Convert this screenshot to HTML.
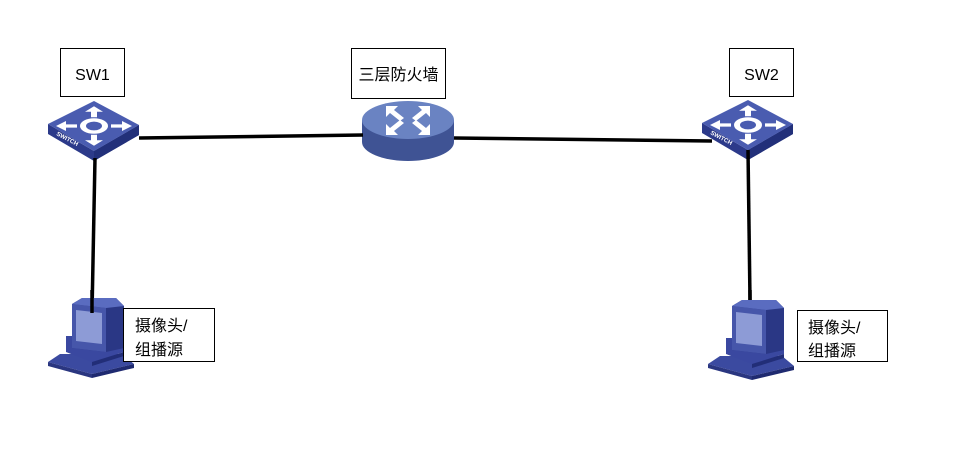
<!DOCTYPE html>
<html><head><meta charset="utf-8"><style>
html,body{margin:0;padding:0;background:#fff;}
svg{display:block;}
text{font-family:"Liberation Sans","Noto Sans CJK SC",sans-serif;fill:#000;}
</style></head><body>
<svg width="965" height="466" viewBox="0 0 965 466" xmlns="http://www.w3.org/2000/svg">
<defs>
<g id="sw">
  <path d="M-46,23 L0,50 L45,24 L45,34 L0,60 L-46,33 Z" fill="#2c3a8a"/>
  <path d="M0,50 L45,24 L45,34 L0,60 Z" fill="#22307a"/>
  <path d="M0,0 L45,24 L0,50 L-46,23 Z" fill="#4a5cb0"/>
  <g fill="#fff" transform="translate(0,25) scale(1,0.55)">
    <ellipse cx="0" cy="0" rx="11" ry="11" fill="none" stroke="#fff" stroke-width="6"/>
    <path d="M0,-36 L-9,-26 L-3,-26 L-3,-16 L3,-16 L3,-26 L9,-26 Z"/>
    <path d="M0,36 L-9,26 L-3,26 L-3,16 L3,16 L3,26 L9,26 Z"/>
    <path d="M-38,0 L-28,-9 L-28,-3 L-17,-3 L-17,3 L-28,3 L-28,9 Z"/>
    <path d="M38,0 L28,-9 L28,-3 L17,-3 L17,3 L28,3 L28,9 Z"/>
  </g>
  <text x="-38" y="34" font-size="6" font-weight="bold" fill="#fff" style="fill:#fff" transform="rotate(28 -38 34)">SWITCH</text>
</g>
<g id="pc">
  <path d="M-2,58 L60,58 L72,68 L30,78 L-14,66 Z" fill="#3b4aa0"/>
  <path d="M-14,66 L30,78 L30,82 L-14,70 Z" fill="#2a3680"/>
  <path d="M30,78 L72,68 L72,72 L30,82 Z" fill="#1f2a70"/>
  <path d="M4,40 L62,40 L62,56 L30,66 L4,56 Z" fill="#3a48a0"/>
  <path d="M30,66 L62,56 L62,60 L30,70 Z" fill="#222e78"/>
  <path d="M10,8 L20,2 L54,2 L62,10 L62,52 L44,56 L10,52 Z" fill="#2a3785"/>
  <path d="M10,8 L44,12 L44,56 L10,52 Z" fill="#4656aa"/>
  <path d="M14,14 L40,17 L40,48 L14,45 Z" fill="#8d9bd6"/>
  <path d="M10,8 L20,2 L54,2 L62,10 L44,12 Z" fill="#5a6cc0"/>
</g>
</defs>

<rect x="60.5" y="48.5" width="64" height="48" fill="#fff" stroke="#000"/>
<text x="92.5" y="80" font-size="16" text-anchor="middle">SW1</text>
<rect x="351.5" y="48.5" width="94" height="50" fill="#fff" stroke="#000"/>
<text x="398.5" y="80" font-size="16" text-anchor="middle">三层防火墙</text>
<rect x="729.5" y="48.5" width="64" height="48" fill="#fff" stroke="#000"/>
<text x="761.5" y="80" font-size="16" text-anchor="middle">SW2</text>

<use href="#sw" x="94" y="101"/>
<use href="#sw" x="748" y="100"/>

<!-- firewall -->
<path d="M362,120 L362,142 A46,19 0 0 0 454,142 L454,120 Z" fill="#3f5394"/>
<ellipse cx="408" cy="120" rx="46" ry="19" fill="#6a83c2"/>
<g fill="#fff">
  <path d="M386,106 L398,106 L394,110 L404,118 L400,121 L390,113 L386,117 Z"/>
  <path d="M430,106 L418,106 L422,110 L412,118 L416,121 L426,113 L430,117 Z"/>
  <path d="M386,135 L398,135 L394,131 L404,123 L400,120 L390,128 L386,124 Z"/>
  <path d="M430,135 L418,135 L422,131 L412,123 L416,120 L426,128 L430,124 Z"/>
</g>

<g stroke="#000" stroke-width="3.5" fill="none">
  <line x1="139" y1="138" x2="363" y2="135"/>
  <line x1="454" y1="138" x2="712" y2="141"/>
  <line x1="95" y1="158" x2="92" y2="313"/>
  <line x1="748" y1="150" x2="750" y2="300"/>
</g>

<use href="#pc" x="62" y="296"/>
<use href="#pc" x="722" y="298"/>
<line x1="92" y1="290" x2="92" y2="313" stroke="#000" stroke-width="3.5"/>
<line x1="750" y1="290" x2="750" y2="300" stroke="#000" stroke-width="3.5"/>

<rect x="123.5" y="308.5" width="91" height="53" fill="#fff" stroke="#000"/>
<text x="135" y="331" font-size="16">摄像头/</text>
<text x="135" y="355" font-size="16">组播源</text>
<rect x="797.5" y="310.5" width="90" height="51" fill="#fff" stroke="#000"/>
<text x="808" y="333" font-size="16">摄像头/</text>
<text x="808" y="356" font-size="16">组播源</text>
</svg>
</body></html>
